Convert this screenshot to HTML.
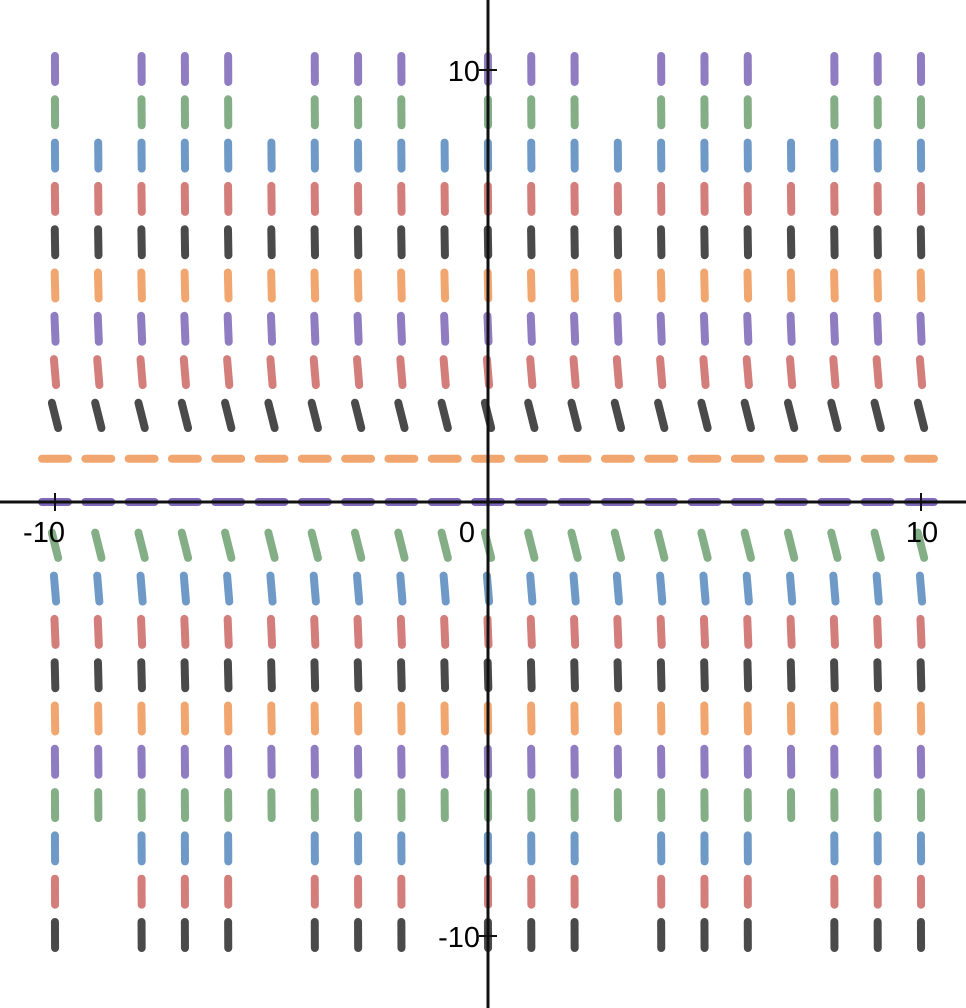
<!DOCTYPE html>
<html><head><meta charset="utf-8">
<style>
html,body{margin:0;padding:0;background:#fff;}
svg{display:block;}
text{font-family:"Liberation Sans",Arial,sans-serif;font-size:29px;fill:#000;}
</style></head>
<body>
<svg id="chart" width="966" height="1008" viewBox="0 0 966 1008" xmlns="http://www.w3.org/2000/svg">
<g id="marks"></g>
<g id="axes">
<line x1="0" y1="502" x2="966" y2="502" stroke="#111" stroke-width="3"/>
<line x1="488" y1="0" x2="488" y2="1008" stroke="#111" stroke-width="3"/>
<line x1="55" y1="493" x2="55" y2="511" stroke="#111" stroke-width="2"/>
<line x1="921" y1="493" x2="921" y2="511" stroke="#111" stroke-width="2"/>
<line x1="479" y1="70" x2="497" y2="70" stroke="#111" stroke-width="2"/>
<line x1="479" y1="936" x2="497" y2="936" stroke="#111" stroke-width="2"/>
<text x="44" y="542" text-anchor="middle">-10</text>
<text x="467" y="542" text-anchor="middle">0</text>
<text x="922" y="542" text-anchor="middle">10</text>
<text x="480" y="81" text-anchor="end">10</text>
<text x="480" y="947" text-anchor="end">-10</text>
</g>
</svg>
<script>
const xValues = [-10,-9,-8,-7,-6,-5,-4,-3,-2,-1,0,1,2,3,4,5,6,7,8,9,10];
const yValues = [10,9,8,7,6,5,4,3,2,1,0,-1,-2,-3,-4,-5,-6,-7,-8,-9,-10];
const rowColors = ["#8f7cc1","#83ae86","#6f9ac7","#d37e7b","#4a4a4a","#f2a66f","#8f7cc1","#d37e7b","#4a4a4a","#f2a66f","#7e68b8","#83ae86","#6f9ac7","#d37e7b","#4a4a4a","#f2a66f","#8f7cc1","#83ae86","#6f9ac7","#d37e7b","#4a4a4a"];
const sparseRows = [10,9,-8,-9,-10];
const sparseMissingX = [-9,-5,-1,3,7];
function slope(y){ return -2*y*(y-1); }
function sx(x){ return 488 + x*43.3; }
function sy(y){ return 502 - y*43.3; }
const g = document.getElementById('marks');
const NS = 'http://www.w3.org/2000/svg';
const half = 13;
yValues.forEach((y,ri)=>{
  xValues.forEach(x=>{
    if (sparseRows.includes(y) && sparseMissingX.includes(x)) return;
    const m = slope(y);
    const ang = Math.atan(m);
    const dx = Math.cos(ang)*half, dy = Math.sin(ang)*half;
    const cx = sx(x), cy = sy(y);
    const ln = document.createElementNS(NS,'line');
    ln.setAttribute('x1', cx-dx); ln.setAttribute('y1', cy+dy);
    ln.setAttribute('x2', cx+dx); ln.setAttribute('y2', cy-dy);
    ln.setAttribute('stroke', rowColors[ri]);
    ln.setAttribute('stroke-width', 8);
    ln.setAttribute('stroke-linecap', 'round');
    
    
    g.appendChild(ln);
  });
});
</script>
</body></html>
